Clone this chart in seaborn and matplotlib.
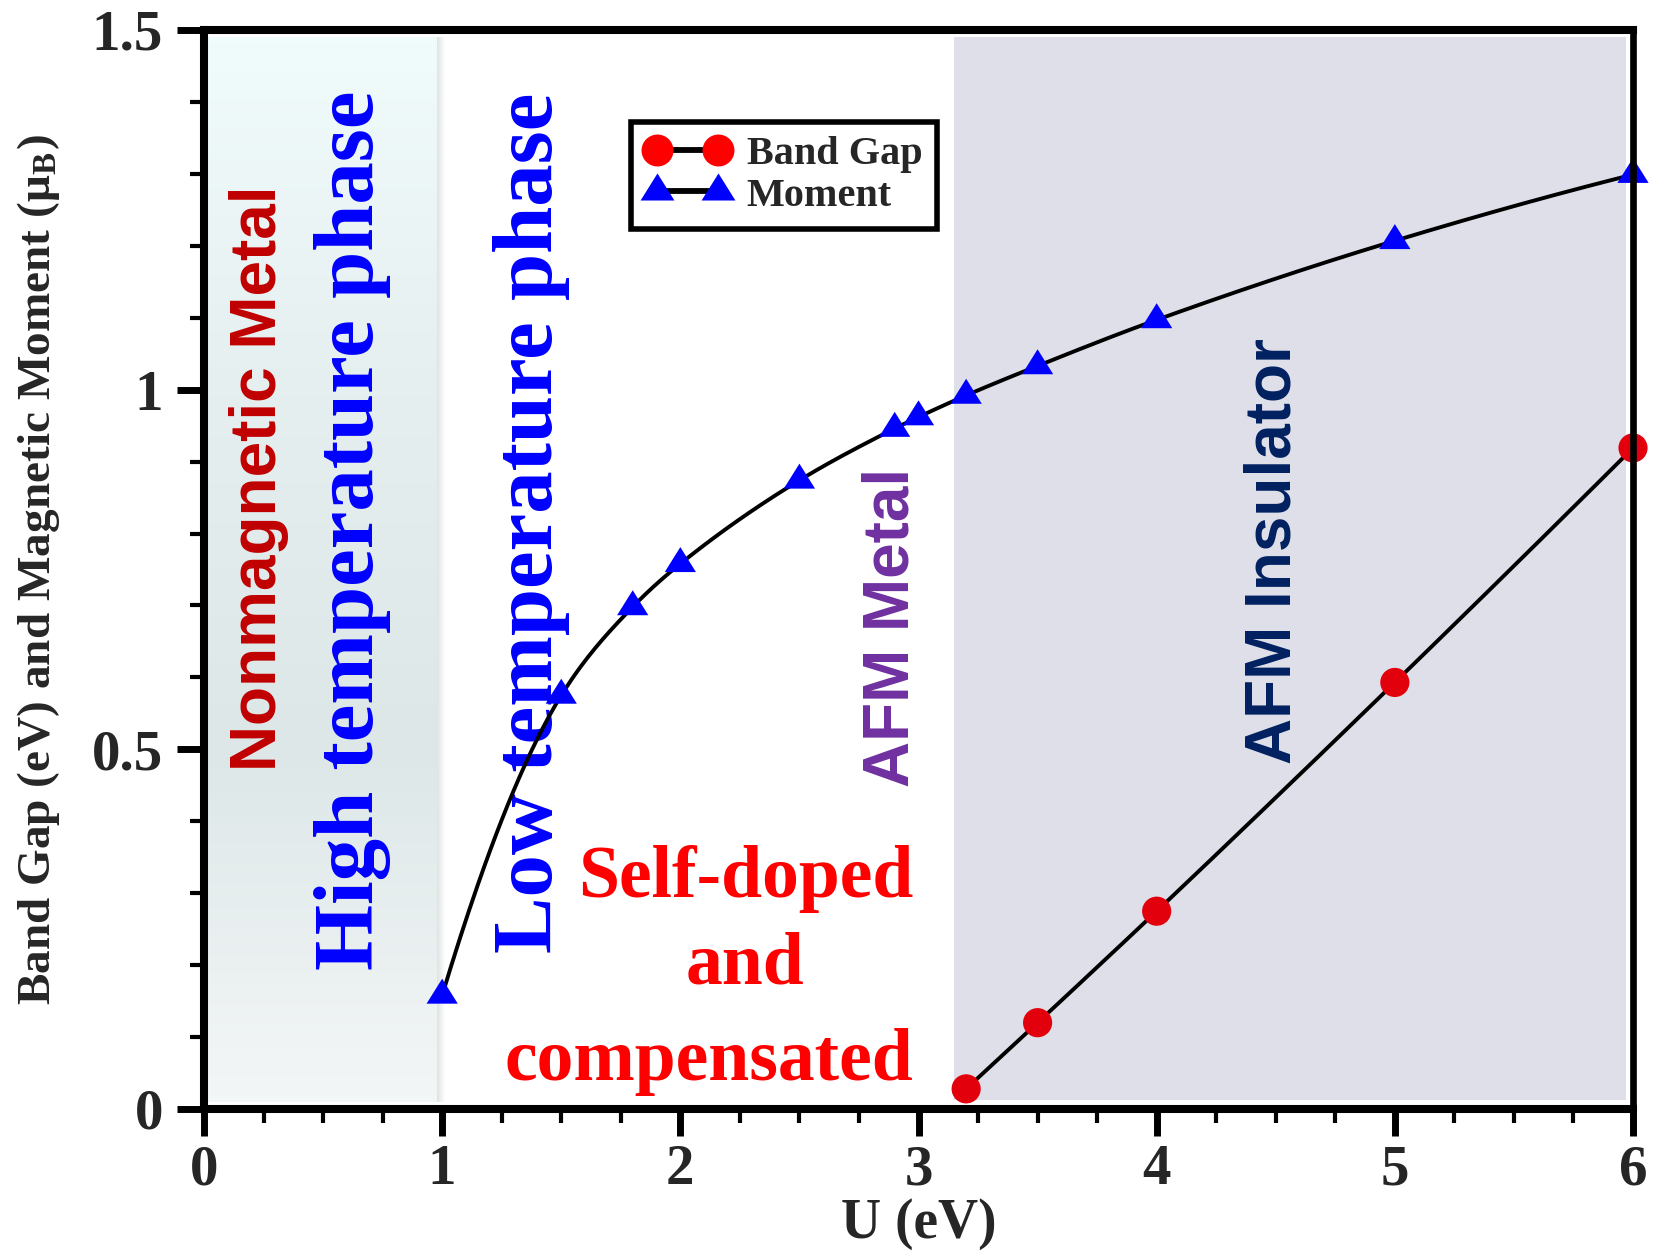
import numpy as np
import matplotlib
matplotlib.use("Agg")
import matplotlib.pyplot as plt
from matplotlib.lines import Line2D
from matplotlib.markers import MarkerStyle
from matplotlib.colors import LinearSegmentedColormap
import seaborn as sns

# ---------------- data ----------------
u_moment = [1.0, 1.5, 1.8, 2.0, 2.5, 2.9, 3.0, 3.2, 3.5, 4.0, 5.0, 6.0]
moment = [0.158, 0.575, 0.698, 0.758, 0.874, 0.946, 0.962, 0.992, 1.033, 1.097, 1.207, 1.299]
u_gap = [3.2, 3.5, 4.0, 5.0, 6.0]
band_gap = [0.028, 0.120, 0.275, 0.593, 0.919]

x_ticks = [0, 1, 2, 3, 4, 5, 6]
y_ticks = [0, 0.5, 1.0, 1.5]
y_tick_labels = ["0", "0.5", "1", "1.5"]

legend_labels = ["Band Gap", "Moment"]
xlabel = "U (eV)"
ylabel = r"Band Gap (eV) and Magnetic Moment (μ$_{\mathregular{B}}$)"


def smooth_curve(x, y, n=40):
    """Shape-preserving (PCHIP) curve through the data points, for drawing."""
    x = np.asarray(x, float)
    y = np.asarray(y, float)
    h = np.diff(x)
    d = np.diff(y) / h
    m = np.zeros_like(x)
    for k in range(1, len(x) - 1):
        if d[k - 1] * d[k] <= 0:
            m[k] = 0.0
        else:
            w1 = 2 * h[k] + h[k - 1]
            w2 = h[k] + 2 * h[k - 1]
            m[k] = (w1 + w2) / (w1 / d[k - 1] + w2 / d[k])

    def end_slope(h0, h1, d0, d1):
        s = ((2 * h0 + h1) * d0 - h0 * d1) / (h0 + h1)
        if np.sign(s) != np.sign(d0):
            s = 0.0
        elif np.sign(d0) != np.sign(d1) and abs(s) > abs(3 * d0):
            s = 3 * d0
        return s

    m[0] = end_slope(h[0], h[1], d[0], d[1])
    m[-1] = end_slope(h[-1], h[-2], d[-1], d[-2])
    xs, ys = [], []
    for k in range(len(x) - 1):
        t = np.linspace(0, 1, n, endpoint=(k == len(x) - 2))
        h00 = 2 * t**3 - 3 * t**2 + 1
        h10 = t**3 - 2 * t**2 + t
        h01 = -2 * t**3 + 3 * t**2
        h11 = t**3 - t**2
        xs.append(x[k] + t * h[k])
        ys.append(h00 * y[k] + h10 * h[k] * m[k] + h01 * y[k + 1] + h11 * h[k] * m[k + 1])
    return np.concatenate(xs), np.concatenate(ys)


# ---------------- style ----------------
sns.set_theme(style="ticks")
plt.rcParams["font.family"] = ["Liberation Serif", "DejaVu Serif"]
plt.rcParams["font.weight"] = "bold"
plt.rcParams["axes.labelweight"] = "bold"
plt.rcParams["mathtext.fontset"] = "stix"

fig = plt.figure(figsize=(16.54, 12.51), dpi=100)
ax = fig.add_axes([0.12334, 0.11351, 0.86397, 0.86251])
ax.set_xlim(0, 6)
ax.set_ylim(0, 1.5)
ax.set_facecolor("white")

# ---------------- background regions ----------------
cyan_cmap = LinearSegmentedColormap.from_list("cy", ["#f3f6f6", "#dde7e8", "#e6efef", "#f0fbfb"])
ax.imshow(np.linspace(0, 1, 256).reshape(-1, 1), origin="lower", cmap=cyan_cmap,
          extent=[0.0, 0.977, 0.01, 1.49], aspect="auto", zorder=0, interpolation="bilinear")
shadow_cmap = LinearSegmentedColormap.from_list("sh", ["#d8dcdc", "#ffffff"])
ax.imshow(np.linspace(0, 1, 64).reshape(1, -1), cmap=shadow_cmap,
          extent=[0.977, 1.01, 0.01, 1.49], aspect="auto", zorder=0, interpolation="bilinear",
          alpha=0.8)
ax.axvspan(3.147, 5.97, ymin=0.0083, ymax=0.9935, color="#dfdfe9", lw=0, zorder=0)

# ---------------- region texts ----------------
sans = ["Liberation Sans", "DejaVu Sans"]
serif = ["Liberation Serif", "DejaVu Serif"]
rot_kw = dict(rotation=90, rotation_mode="anchor", ha="center", va="baseline", zorder=1.5)
ax.text(0.302, 0.877, "Nonmagnetic Metal", color="#c00000", fontsize=46,
        family=sans, weight="bold", **rot_kw)
ax.text(0.709, 0.805, "High temperature phase", color="#0000ff", fontsize=61,
        family=serif, weight="bold", **rot_kw)
ax.text(1.461, 0.815, "Low temperature phase", color="#0000ff", fontsize=61,
        family=serif, weight="bold", **rot_kw)
ax.text(2.956, 0.669, "AFM Metal", color="#7030a0", fontsize=46,
        family=sans, weight="bold", **rot_kw)
ax.text(4.563, 0.775, "AFM Insulator", color="#002060", fontsize=46,
        family=sans, weight="bold", **rot_kw)

hor_kw = dict(color="#ff0000", fontsize=53, family=serif, weight="bold", va="baseline", zorder=1.5)
ax.text(2.977, 0.295, "Self-doped", ha="right", **hor_kw)
ax.text(2.271, 0.175, "and", ha="center", **hor_kw)
ax.text(2.977, 0.040, "compensated", ha="right", **hor_kw)

# ---------------- data series ----------------
tri = MarkerStyle([(-1.0, -0.533), (1.0, -0.533), (0.0, 1.067), (-1.0, -0.533)])
red = "#e3000d"
blue = "#0000ff"

xm, ym = smooth_curve(u_moment, moment)
xg, yg = smooth_curve(u_gap, band_gap)
sns.lineplot(x=xm, y=ym, ax=ax, color="black", lw=2.8, sort=False, estimator=None, zorder=2.1)
sns.lineplot(x=xg, y=yg, ax=ax, color="black", lw=2.8, sort=False, estimator=None, zorder=2.1)
sns.scatterplot(x=u_moment, y=moment, ax=ax, marker=tri, s=24**2, color=blue,
                edgecolor="none", linewidth=0, zorder=2.3, clip_on=False)
sns.scatterplot(x=u_gap, y=band_gap, ax=ax, marker="o", s=21**2, color=red,
                edgecolor="none", linewidth=0, zorder=2.3, clip_on=False)

# ---------------- axes styling ----------------
for side in ["left", "bottom", "top"]:
    ax.spines[side].set_linewidth(5.8)
ax.spines["right"].set_linewidth(4.8)
for sp in ax.spines.values():
    sp.set_color("black")
    sp.set_zorder(2.5)

ax.set_xticks(x_ticks)
ax.set_xticklabels([str(v) for v in x_ticks])
ax.set_xticks(np.arange(0, 6.01, 0.25), minor=True)
ax.set_yticks(y_ticks)
ax.set_yticklabels(y_tick_labels)
ax.set_yticks(np.arange(0, 1.51, 0.1), minor=True)
ax.tick_params(which="major", direction="out", length=19.5, width=5, color="black",
               labelsize=41, top=False, right=False)
ax.tick_params(which="minor", direction="out", length=10, width=3, color="black",
               top=False, right=False)
ax.tick_params(axis="x", which="major", pad=6)
ax.tick_params(axis="y", which="major", pad=10)
for lab in ax.get_xticklabels() + ax.get_yticklabels():
    lab.set_fontweight("bold")
    lab.set_family(serif)

ax.set_xlabel(xlabel, fontsize=40, fontweight="bold", family=serif)
ax.set_ylabel(ylabel, fontsize=34, fontweight="bold", family=serif)
ax.xaxis.set_label_coords(0.5, -0.0825)
ax.yaxis.set_label_coords(-0.0994, 0.5)

# ---------------- legend ----------------
handles = [
    Line2D([0], [0], color="black", lw=4.2, marker="o", ms=23, mfc="#ff0000", mec="none"),
    Line2D([0], [0], color="black", lw=4.2, marker=tri, ms=26, mfc=blue, mec="none"),
]
leg = ax.legend(handles, legend_labels, loc="upper left", bbox_to_anchor=(0.299, 0.9147),
                numpoints=2, handlelength=2.1, handletextpad=0.42, labelspacing=0.1,
                borderpad=0.35, borderaxespad=0, fancybox=False, framealpha=1,
                prop={"family": serif, "weight": "bold", "size": 29})
leg.get_frame().set_edgecolor("black")
leg.get_frame().set_linewidth(4.0)
leg.set_zorder(5)

fig.savefig("out.png", dpi=100)
